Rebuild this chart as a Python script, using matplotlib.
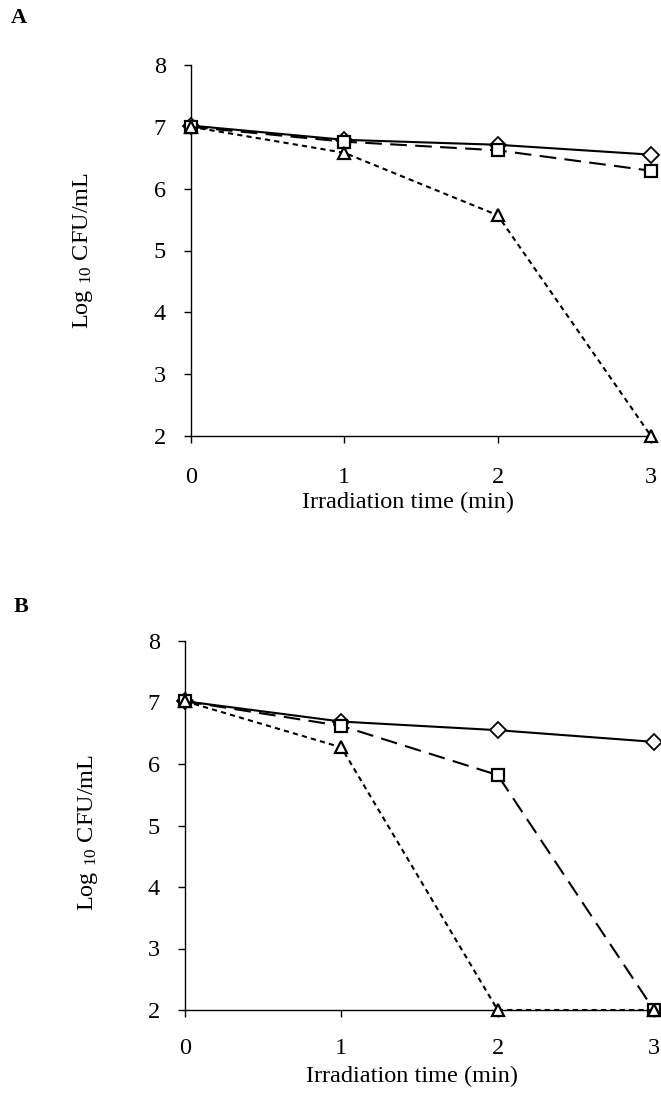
import matplotlib
matplotlib.use("Agg")
import matplotlib.pyplot as plt

plt.rcParams['font.family'] = 'serif'
plt.rcParams['font.serif'] = ['Liberation Serif']
plt.rcParams['mathtext.fontset'] = 'custom'
plt.rcParams['mathtext.rm'] = 'Liberation Serif'
plt.rcParams['mathtext.it'] = 'Liberation Serif:italic'

time_min = [0, 1, 2, 3]
yticks = [2, 3, 4, 5, 6, 7, 8]

# Panel A
a_diamond = [7.02, 6.79, 6.71, 6.55]
a_square = [7.00, 6.76, 6.62, 6.29]
a_triangle = [7.00, 6.58, 5.57, 2.00]

# Panel B
b_diamond = [7.02, 6.69, 6.55, 6.36]
b_square = [7.02, 6.62, 5.82, 2.00]
b_triangle = [7.02, 6.27, 2.00, 2.00]

fig = plt.figure(figsize=(6.61, 11.0), dpi=100)

def draw(ax, d, s, t, xpad, xlab_xy, ylab_xy):
    ax.plot(time_min, d, color='black', lw=1.5, ls='-', marker='D', ms=8,
            mfc='white', mec='black', mew=1.3, clip_on=False, zorder=3)
    ax.plot(time_min, s, color='black', lw=1.5, ls=(0, (8, 4)), marker='s', ms=9,
            mfc='white', mec='black', mew=1.6, clip_on=False, zorder=4)
    ax.plot(time_min, t, color='black', lw=1.5, ls=(0, (2.5, 2)), marker='^', ms=9,
            mfc='white', mec='black', mew=1.6, clip_on=False, zorder=5)
    ax.set_xlim(0, 3)
    ax.set_ylim(2, 8)
    ax.set_xticks(time_min)
    ax.set_yticks(yticks)
    ax.spines['top'].set_visible(False)
    ax.spines['right'].set_visible(False)
    ax.spines['left'].set_linewidth(1.0)
    ax.spines['bottom'].set_linewidth(1.0)
    ax.tick_params(axis='x', direction='out', length=5, width=1.0, pad=xpad, labelsize=17.5)
    ax.tick_params(axis='y', direction='out', length=5, width=1.0, pad=13, labelsize=17.5)
    ax.set_xlabel('Irradiation time (min)', fontsize=17.5)
    ax.set_ylabel(r'Log $_{10}$ CFU/mL', fontsize=17.5)
    ax.xaxis.set_label_coords(*xlab_xy)
    ax.yaxis.set_label_coords(*ylab_xy)

axA = fig.add_axes([191/661, 1-436/1100, (651-191)/661, (436-65)/1100])
draw(axA, a_diamond, a_square, a_triangle, 17,
     ((408.5-191)/460, -56/371), ((95-191)/460, 0.5))
axB = fig.add_axes([185/661, 1-1010/1100, (654-185)/661, (1010-641)/1100])
draw(axB, b_diamond, b_square, b_triangle, 15,
     ((412-185)/469, -56/369), ((100-185)/469, 0.482))

fig.text(11/661, 1-18/1100, 'A', fontsize=16, fontweight='bold', va='center', ha='left')
fig.text(14/661, 1-607/1100, 'B', fontsize=16, fontweight='bold', va='center', ha='left')

fig.savefig('out.png', dpi=100, facecolor='white')
